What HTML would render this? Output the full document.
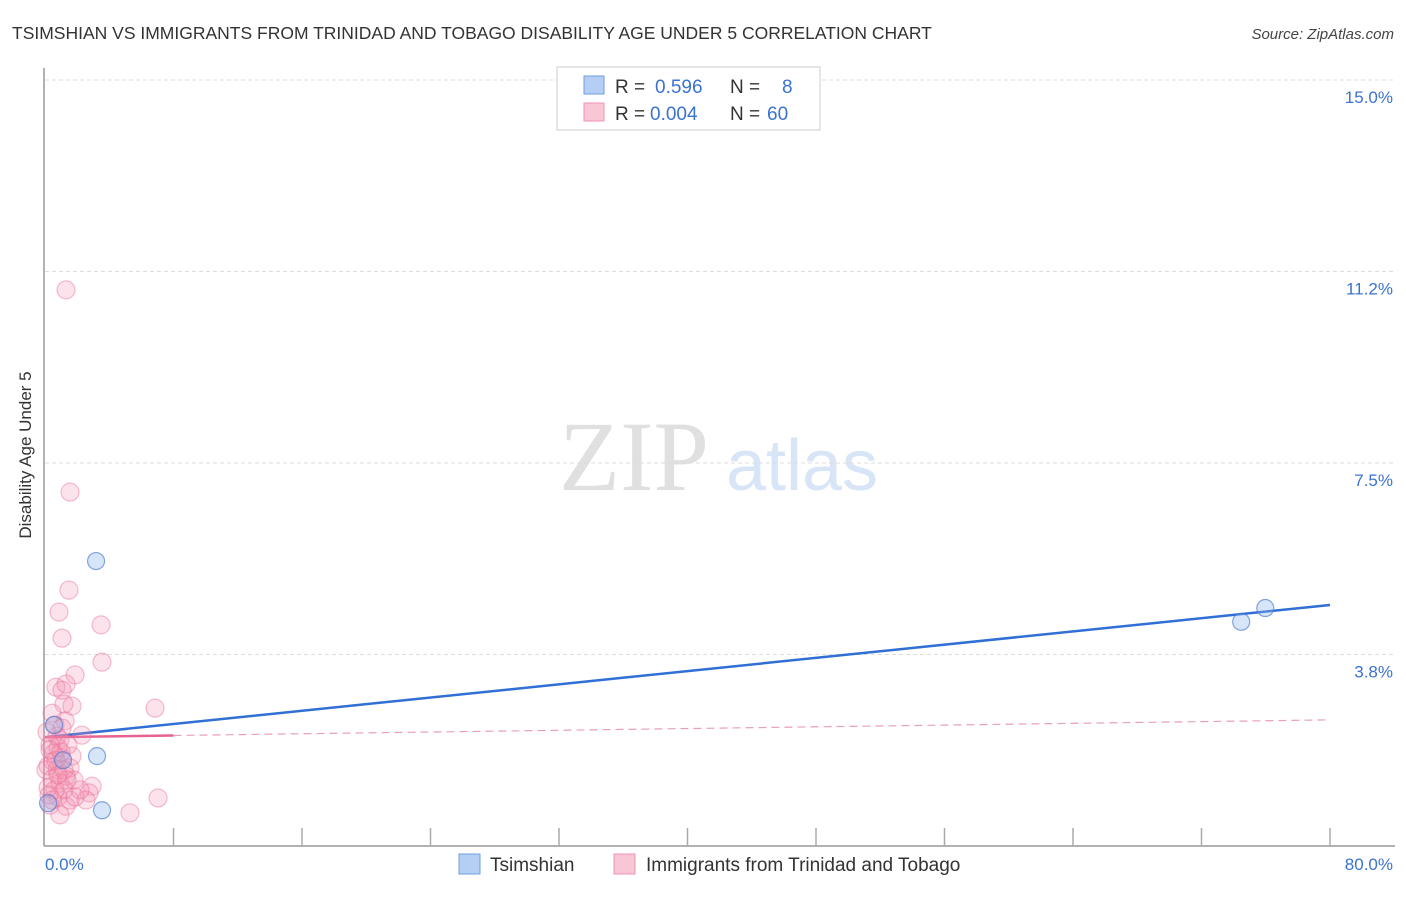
<!DOCTYPE html>
<html><head><meta charset="utf-8"><style>
body{margin:0;background:#fff;font-family:"Liberation Sans",sans-serif;}
svg text{font-family:"Liberation Sans",sans-serif;}
</style></head><body>
<svg id="chart" width="1406" height="892" viewBox="0 0 1406 892" xmlns="http://www.w3.org/2000/svg">
<text x="12" y="39" font-size="17.5" fill="#333">TSIMSHIAN VS IMMIGRANTS FROM TRINIDAD AND TOBAGO DISABILITY AGE UNDER 5 CORRELATION CHART</text>
<text x="1394" y="39" font-size="15" fill="#444" text-anchor="end" font-style="italic">Source: ZipAtlas.com</text>
<g>
<text x="634" y="490" font-size="100" fill="#e0e0e0" style="font-family:'Liberation Serif',serif" text-anchor="middle">ZIP</text>
<text x="802" y="490" font-size="72" fill="#d8e5f6" text-anchor="middle">atlas</text>
</g>
<g id="grid"></g>
<line x1="44" y1="68" x2="44" y2="846" stroke="#999" stroke-width="1.5"/>
<line x1="44" y1="846" x2="1395" y2="846" stroke="#999" stroke-width="1.5"/>
<g id="ticks"></g>
<text transform="translate(31,455) rotate(-90)" font-size="17" fill="#333" text-anchor="middle">Disability Age Under 5</text>
<text x="45" y="870" font-size="17" fill="#3b73d0">0.0%</text>
<text x="1393" y="870" font-size="17" fill="#3b73d0" text-anchor="end">80.0%</text>
<g id="trend"></g>
<g id="pts"></g>
<g>
<rect x="557" y="67" width="263" height="63" fill="#fff" stroke="#ccc"/>
<rect x="584" y="76" width="20" height="18" fill="#b4cff3" stroke="#6f9ddf"/>
<rect x="584" y="103" width="20" height="18" fill="#f9c6d5" stroke="#ef93b2"/>
<text x="615" y="93" font-size="19" fill="#333">R = </text><text x="655" y="93" font-size="19" fill="#3b73d0">0.596</text>
<text x="730" y="93" font-size="19" fill="#333">N = </text><text x="782" y="93" font-size="19" fill="#3b73d0">8</text>
<text x="615" y="120" font-size="19" fill="#333">R = </text><text x="650" y="120" font-size="19" fill="#3b73d0">0.004</text>
<text x="730" y="120" font-size="19" fill="#333">N = </text><text x="767" y="120" font-size="19" fill="#3b73d0">60</text>
</g>
<g>
<rect x="459" y="854" width="21" height="20" fill="#b4cff3" stroke="#6f9ddf"/>
<text x="490" y="871" font-size="19" fill="#333">Tsimshian</text>
<rect x="614" y="854" width="21" height="20" fill="#f9c6d5" stroke="#ef93b2"/>
<text x="646" y="871" font-size="19" fill="#333">Immigrants from Trinidad and Tobago</text>
</g>
</svg>
<script>
const yTicks=[15.0,11.2,7.5,3.8];
const yTickVals=[15,11.25,7.5,3.75];
const xTickVals=[8,16,24,32,40,48,56,64,72,80];
const tsX=[3.18,0.56,3.24,3.55,0.19,74.47,75.97,1.12];
const tsY=[5.58,2.37,1.76,0.70,0.84,4.39,4.66,1.68];
const imX=[1.31,1.56,1.49,0.87,3.49,1.06,3.55,1.87,0.68,1.31,1.06,1.68,1.18,6.85,0.44,1.25,2.30,0.75,0.62,0.93,0.31,0.56,1.06,1.56,0.19,0.75,1.31,1.81,0.44,0.93,2.93,0.19,1.18,2.74,0.81,1.56,2.55,7.04,0.31,1.31,5.29,0.93,0.50,0.81,0.06,0.25,1.68,1.18,0.62,2.18,1.37,1.00,0.12,0.68,0.44,1.87,0.81,1.06,0.31,1.43];
const imY=[10.89,6.93,5.01,4.58,4.33,4.07,3.60,3.35,3.11,3.17,3.05,2.74,2.78,2.70,2.60,2.45,2.17,2.15,2.37,2.08,1.98,1.82,1.72,1.53,1.57,1.49,1.37,1.29,1.31,1.23,1.17,1.14,1.10,1.04,0.96,0.90,0.90,0.94,0.80,0.78,0.65,0.61,1.66,1.92,1.49,1.00,1.76,1.49,1.10,1.10,1.29,1.84,2.23,1.68,0.90,0.96,1.39,2.31,1.88,1.98];
const tsTrend=[2.13,4.72];
const imTrend=[2.13,2.47];
const NS="http://www.w3.org/2000/svg";
const sx=v=>45+v*(1285/80);
const sy=v=>846-v*(766/15);
function mk(tag,attrs,parent){const e=document.createElementNS(NS,tag);for(const k in attrs)e.setAttribute(k,attrs[k]);document.getElementById(parent).appendChild(e);return e;}
yTickVals.forEach((v,i)=>{
 const l=mk('line',{x1:45,x2:1395,y1:sy(v),y2:sy(v),stroke:'#ddd','stroke-dasharray':'4,3'},'grid');
 
 
 const t=mk('text',{x:1393,y:sy(v)+23,'font-size':17,fill:'#3b73d0','text-anchor':'end'},'grid');
 t.textContent=yTicks[i].toFixed(1)+'%';
 
 
});
xTickVals.forEach(v=>{
 const l=mk('line',{x1:sx(v),x2:sx(v),y1:828,y2:846,stroke:'#aaa','stroke-width':1.5},'ticks');
 
 
});
let b=mk('line',{x1:sx(0),y1:sy(tsTrend[0]),x2:sx(80),y2:sy(tsTrend[1]),stroke:'#2f6fd6','stroke-width':2.5},'trend');


const slope=(imTrend[1]-imTrend[0])/80;
let p1=mk('line',{x1:sx(0),y1:sy(imTrend[0]),x2:sx(8),y2:sy(imTrend[0]+slope*8),stroke:'#e8628f','stroke-width':2.5},'trend');


let p2=mk('line',{x1:sx(8),y1:sy(imTrend[0]+slope*8),x2:sx(80),y2:sy(imTrend[1]),stroke:'#e8a0b8','stroke-width':1.2,'stroke-dasharray':'8,5'},'trend');


imX.forEach((x,i)=>{
 const c=mk('circle',{cx:sx(x),cy:sy(imY[i]),r:9,fill:'rgba(244,143,177,0.25)',stroke:'rgba(232,110,150,0.45)','stroke-width':1.2},'pts');
 
 
});
tsX.forEach((x,i)=>{
 const c=mk('circle',{cx:sx(x),cy:sy(tsY[i]),r:8.5,fill:'rgba(140,180,235,0.35)',stroke:'rgba(70,120,210,0.65)','stroke-width':1.2},'pts');
 
 
});
</script>
</body></html>
